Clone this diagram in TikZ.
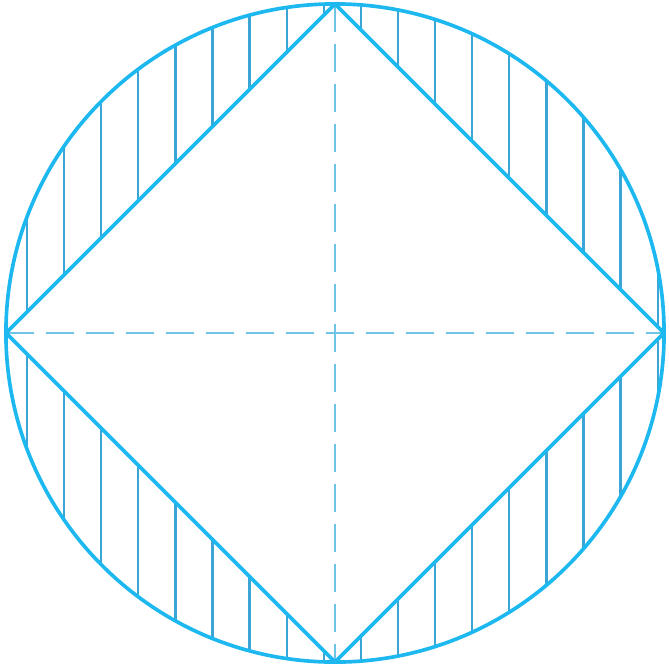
\documentclass[tikz,border=0pt]{standalone}
\usepackage{xcolor}
\usepackage{tikz}
\usetikzlibrary{calc}
\definecolor{RimCyan}{HTML}{1EB8F0}
\definecolor{HatchBlue}{HTML}{3BA6D6}
\definecolor{AxisBlue}{HTML}{6EC3E6}

\begin{document}
\begin{tikzpicture}[x=0.025cm, y=-0.025cm,
  rim/.style={draw=RimCyan, line width=2.6pt, line join=round},
  hatchline/.style={draw=HatchBlue, line width=1.6pt},
  axisline/.style={draw=AxisBlue, line width=1.8pt, dash pattern=on 0.7cm off 0.3cm}]
\useasboundingbox (0,0) rectangle (669,672);
\coordinate (ctr) at (335,333);
\coordinate (top) at (335,4);
\coordinate (rgt) at (664,333);
\coordinate (bot) at (335,662);
\coordinate (lft) at (6,333);
% hatching between circle and square
\begin{scope}[even odd rule]
\clip (ctr) circle[radius=8.225cm] (top) -- (rgt) -- (bot) -- (lft) -- cycle;
\foreach \k in {0,...,17}
  \draw[hatchline] ({27+37.1*\k},0) -- ++(0,672);
\end{scope}
% center lines
\draw[axisline] (lft) -- (rgt);
\draw[axisline] (top) -- (bot);
% outline
\draw[rim] (ctr) circle[radius=8.225cm];
\draw[rim] (top) -- (rgt) -- (bot) -- (lft) -- cycle;
\end{tikzpicture}
\end{document}
